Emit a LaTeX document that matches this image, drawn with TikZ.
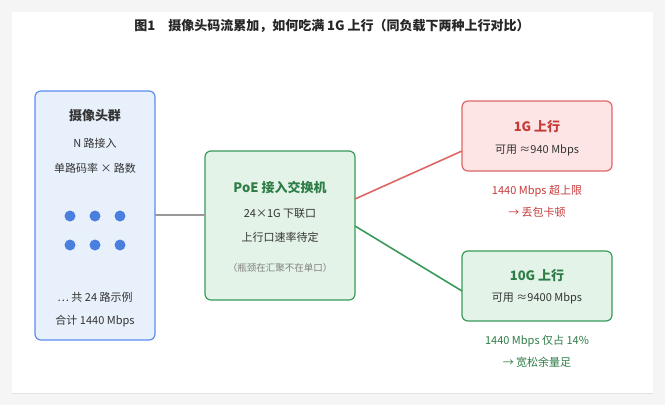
\documentclass[tikz,border=0pt]{standalone}
\usepackage{fontspec}
\setmainfont{Noto Sans CJK SC}
\usetikzlibrary{shadows}
\definecolor{bluebd}{HTML}{5B8DEF}\definecolor{bluefill}{HTML}{E8F0FB}
\definecolor{grnbd}{HTML}{3A9A5B}\definecolor{grnfill}{HTML}{E3F3E8}\definecolor{grntx}{HTML}{2E7D46}
\definecolor{redbd}{HTML}{E06666}\definecolor{redfill}{HTML}{FDE5E5}\definecolor{redtx}{HTML}{C73A3A}
\definecolor{txt}{HTML}{333333}\definecolor{dot}{HTML}{4A7FE0}
\begin{document}
\begin{tikzpicture}[x=1pt,y=-1pt,
 box/.style={rounded corners=6pt,line width=1.2pt},
 t/.style={font=\fontsize{11}{13}\selectfont,text=txt},
 h/.style={font=\fontsize{13}{15}\selectfont\bfseries},
 d/.style={circle,fill=dot,minimum size=11pt,inner sep=0pt}]
\fill[gray!8] (0,0) rectangle (665,405);
\useasboundingbox (0,0) rectangle (665,405);
\fill[white,drop shadow={opacity=0.15,shadow xshift=0pt,shadow yshift=-1pt}] (12,12) rectangle (653,393);
\node[h,text=black!85] (title) at (332,26) {图1\quad 摄像头码流累加，如何吃满 1G 上行（同负载下两种上行对比）};
% left
\draw[box,draw=bluebd,fill=bluefill] (35,91) rectangle (155,340);
\coordinate (lr) at (155,215);
\node[h,text=txt] (l1) at (95,116) {摄像头群};
\node[t] (l2) at (95,143) {N 路接入};
\node[t] (l3) at (95,168) {单路码率 × 路数};
\foreach \i/\x in {1/70,2/95,3/120}{\node[d] (a\i) at (\x,216) {};\node[d] (b\i) at (\x,245) {};}
\node[t] (l4) at (95,297) {… 共 24 路示例};
\node[t] (l5) at (95,321) {合计 1440 Mbps};
% center
\draw[box,draw=grnbd,fill=grnfill] (205,151) rectangle (355,300);
\coordinate (cl) at (205,215);
\coordinate (cr1) at (355,199);
\coordinate (cr2) at (355,226);
\node[h,text=grntx] (c1) at (280,187) {PoE 接入交换机};
\node[t] (c2) at (280,213) {24×1G 下联口};
\node[t] (c3) at (280,237) {上行口速率待定};
\node[font=\fontsize{9.5}{11}\selectfont,text=gray] (c4) at (280,268) {（瓶颈在汇聚不在单口）};
% right top
\draw[box,draw=redbd,fill=redfill] (462,101) rectangle (612,171);
\coordinate (rt) at (462,151);
\node[h,text=redtx] (r1) at (537,127) {1G 上行};
\node[t] (r2) at (537,150) {可用 ≈940 Mbps};
\node[t,text=redtx] (r3) at (537,191) {1440 Mbps 超上限};
\node[t,text=redtx] (r4) at (537,212) {→ 丢包卡顿};
% right bottom
\draw[box,draw=grnbd,fill=grnfill] (462,251) rectangle (612,321);
\coordinate (rb) at (462,291);
\node[h,text=grntx] (g1) at (537,276) {10G 上行};
\node[t] (g2) at (537,298) {可用 ≈9400 Mbps};
\node[t,text=grntx] (g3) at (537,341) {1440 Mbps 仅占 14\%};
\node[t,text=grntx] (g4) at (537,362) {→ 宽松余量足};
% connectors
\draw[gray!80,line width=1.2pt] (lr) -- (cl);
\draw[redbd,line width=1.6pt] (cr1) -- (rt);
\draw[grnbd,line width=1.6pt] (cr2) -- (rb);
\end{tikzpicture}
\end{document}
